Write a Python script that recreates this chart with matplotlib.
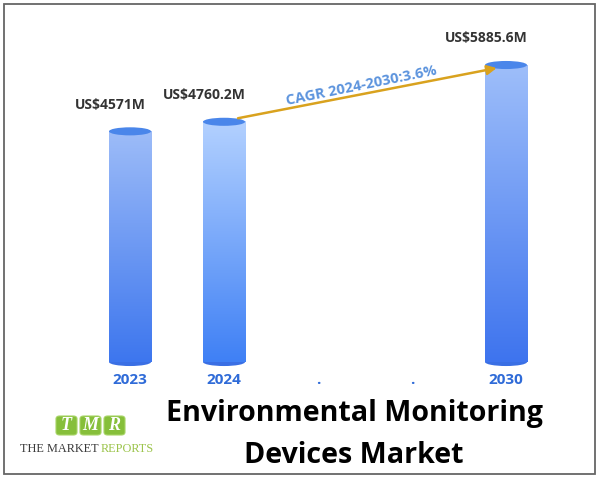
import numpy as np
import matplotlib.pyplot as plt
from matplotlib.patches import Ellipse, Rectangle, FancyBboxPatch
from matplotlib.colors import LinearSegmentedColormap

# chart data
years = ['2023', '2024', '.', '.', '2030']
bar_pos = [0, 1, 4]
values = [4571, 4760.2, 5885.6]
value_labels = ['US$4571M', 'US$4760.2M', 'US$5885.6M']
cagr_label = 'CAGR 2024-2030:3.6%'
title_lines = ['Environmental Monitoring', 'Devices Market']

# cylinder colours (top of body, bottom of body)
body_top = ['#9dbcf8', '#b3d1ff', '#9ebefa']
body_bottom = ['#3d76ee', '#3f80f5', '#3e74ee']
cap_color = '#4a86ea'

W, H = 600, 480


def fx(px):
    return px / W


def fy(py):
    return 1 - py / H


fig = plt.figure(figsize=(6, 4.8), dpi=100)

# outer frame
fig.patches.append(Rectangle((fx(4), fy(474)), fx(591), 470 / H, transform=fig.transFigure,
                             fill=False, edgecolor='#666666', linewidth=1.3))

ax = fig.add_axes([fx(83), fy(362), 470 / W, 328 / H])
bar_w = 0.447
cap_h = 160
grad = np.linspace(0, 1, 256).reshape(-1, 1)

for i, (x, v) in enumerate(zip(bar_pos, values)):
    cmap = LinearSegmentedColormap.from_list('cyl%d' % i, [body_bottom[i], body_top[i]])
    ax.add_patch(Ellipse((x, 0), bar_w, cap_h, facecolor='#3a6fe4', edgecolor='none',
                         zorder=1, clip_on=False))
    ax.imshow(grad, extent=[x - bar_w / 2, x + bar_w / 2, 0, v], origin='lower',
              cmap=cmap, aspect='auto', zorder=2, interpolation='bilinear')
    ax.add_patch(Ellipse((x, v), bar_w, cap_h, facecolor=cap_color, edgecolor='none', zorder=3))
    ax.text(x - 0.21, v + 530, value_labels[i], ha='center', va='center', fontsize=10,
            fontweight='bold', color='#333333', family='Open Sans')

ax.set_xlim(-0.5, 4.5)
ax.set_ylim(0, 6500)

# growth arrow
ax.annotate('', xy=(3.93, values[2] - 50), xytext=(1.12, values[1] + 60),
            arrowprops=dict(arrowstyle='-|>', color='#d9a21e', lw=1.8, mutation_scale=14),
            zorder=4)
ax.text(2.46, 5470, cagr_label, ha='center', va='center', rotation=11.5, fontsize=10.5,
        fontweight='bold', color='#5b93dd', family='Open Sans')

ax.set_xticks(range(len(years)), years)
ax.tick_params(axis='x', length=0, pad=8, labelsize=11, labelcolor='#2f6bd8')
for lab in ax.get_xticklabels():
    lab.set_fontweight('bold')
    lab.set_family('Open Sans')
ax.set_yticks([])
for s in ax.spines.values():
    s.set_visible(False)
ax.patch.set_alpha(0)

# title
fig.text(fx(355), fy(421), title_lines[0], ha='center', va='baseline', fontsize=20.6,
         fontweight='bold', color='black', family='Open Sans')
fig.text(fx(354), fy(463), title_lines[1], ha='center', va='baseline', fontsize=20.6,
         fontweight='bold', color='black', family='Open Sans')

# logo
for k, letter in enumerate('TMR'):
    x0 = 56 + k * 24
    fig.patches.append(FancyBboxPatch((fx(x0), fy(435)), 21 / W, 19 / H,
                                      boxstyle='round,pad=0,rounding_size=0.006',
                                      transform=fig.transFigure, facecolor='#86bf3a',
                                      edgecolor='#a7d466', linewidth=0.8))
    fig.text(fx(x0 + 10.5), fy(425.5), letter, ha='center', va='center', fontsize=13,
             fontweight='bold', style='italic', color='white', family='Liberation Serif')
fig.text(fx(20), fy(452), 'THE MARKET', ha='left', va='baseline', fontsize=8.8,
         color='#3a3a3a', family='Liberation Serif')
fig.text(fx(154), fy(452), 'REPORTS', ha='right', va='baseline', fontsize=8.8,
         color='#9cc44c', family='Liberation Serif')

fig.savefig('out.png', dpi=100)
